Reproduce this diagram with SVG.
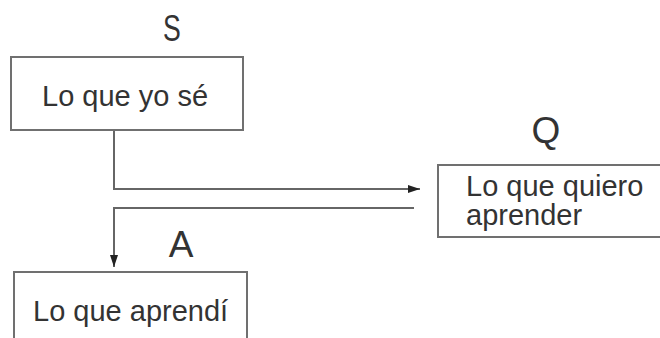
<svg xmlns="http://www.w3.org/2000/svg" width="660" height="338" viewBox="0 0 660 338">
<style>
.box{fill:#fff;stroke:#707070;stroke-width:2}
.t{font-family:"Liberation Sans",Arial,sans-serif;font-size:29px;fill:#333}
.lbl{font-family:"Liberation Sans",Arial,sans-serif;font-size:37px;fill:#333;text-anchor:middle}
.c{fill:none;stroke:#666;stroke-width:2}
</style>
<defs>
<marker id="ah" viewBox="0 0 12 10" refX="12" refY="5" markerWidth="12" markerHeight="10" markerUnits="userSpaceOnUse" orient="auto">
<path d="M0,1 L12,5 L0,9 Z" fill="#222"/>
</marker>
</defs>
<rect width="660" height="338" fill="#fff"/>
<g id="connectors">
<path class="c" d="M114,131 V189 H420" marker-end="url(#ah)"/>
<path class="c" d="M414,208 H114 V267" marker-end="url(#ah)"/>
</g>
<g id="S">
<text class="lbl" transform="translate(172,41) scale(0.72,1)" x="0" y="0">S</text>
<rect class="box" x="11" y="57" width="232" height="73"/>
<text class="t" x="42" y="106">Lo que yo sé</text>
</g>
<g id="Q">
<text class="lbl" x="546" y="143">Q</text>
<rect class="box" x="438" y="165" width="230" height="72"/>
<text class="t" x="466" y="196">Lo que quiero</text>
<text class="t" x="466" y="225">aprender</text>
</g>
<g id="A">
<text class="lbl" x="181" y="257">A</text>
<rect class="box" x="14" y="272" width="233" height="80"/>
<text class="t" x="33" y="321">Lo que aprendí</text>
</g>
</svg>
